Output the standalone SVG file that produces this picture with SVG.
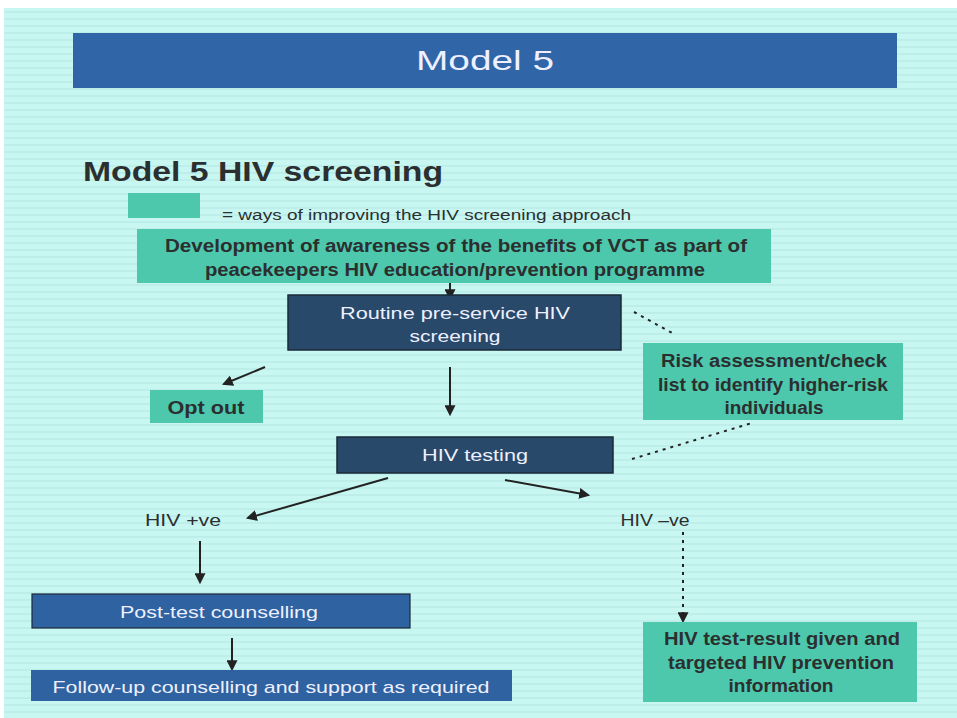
<svg xmlns="http://www.w3.org/2000/svg" width="957" height="718" viewBox="0 0 957 718" xml:space="preserve">
<defs>
<pattern id="stripes" width="10" height="7" patternUnits="userSpaceOnUse">
<rect width="10" height="7" fill="#c8f7f2"/>
<rect y="4" width="10" height="2" fill="#bdeeea"/>
</pattern>
<marker id="ah" viewBox="0 0 10 10" refX="8" refY="5" markerWidth="5.5" markerHeight="5.5" orient="auto">
<path d="M0,0 L10,5 L0,10 z" fill="#222"/>
</marker>
</defs>
<style>
.teal{fill:#4ec8ad}
.navy{fill:#28496a;stroke:#1a2a3a;stroke-width:1.5}
.blue{fill:#2f62a0;stroke:#1a2a3a;stroke-width:1.2}
.bt{font-family:"Liberation Sans",Arial,sans-serif;font-weight:bold;fill:#2b2f2f;text-anchor:middle}
.wt{font-family:"Liberation Sans",Arial,sans-serif;fill:#eef0ff;text-anchor:middle}
.ln{stroke:#222;stroke-width:2;fill:none}
.dl{stroke:#222;stroke-width:2;fill:none;stroke-dasharray:3 5}
</style>
<rect width="957" height="718" fill="#ffffff"/>
<rect x="4" y="8" width="953" height="710" fill="url(#stripes)"/>
<g id="title">
<rect x="73" y="33" width="824" height="55" fill="#3065a8"/>
<text class="wt" x="485" y="70" font-size="28" fill="#f0e8ff" textLength="138" lengthAdjust="spacingAndGlyphs">Model 5</text>
</g>
<g id="heading">
<text class="bt" x="83" y="181" font-size="28" style="text-anchor:start" textLength="360" lengthAdjust="spacingAndGlyphs">Model 5  HIV  screening</text>
</g>
<g id="legend">
<rect class="teal" x="128" y="193" width="72" height="25"/>
<text x="222" y="220" font-family="Liberation Sans, Arial, sans-serif" font-size="14" fill="#2b2f2f" textLength="409" lengthAdjust="spacingAndGlyphs">= ways of improving the HIV  screening approach</text>
</g>
<g id="connectors">
<line class="ln" x1="450" y1="268" x2="450" y2="298" marker-end="url(#ah)"/>
<line class="dl" x1="634" y1="312" x2="674" y2="334"/>
<line class="ln" x1="265" y1="367" x2="224" y2="384" marker-end="url(#ah)"/>
<line class="ln" x1="450" y1="367" x2="450" y2="414" marker-end="url(#ah)"/>
<line class="dl" x1="632" y1="459" x2="752" y2="423"/>
<line class="ln" x1="388" y1="478" x2="248" y2="518" marker-end="url(#ah)"/>
<line class="ln" x1="505" y1="480" x2="588" y2="495" marker-end="url(#ah)"/>
<line class="ln" x1="200" y1="541" x2="200" y2="582" marker-end="url(#ah)"/>
<line class="ln" x1="232" y1="638" x2="232" y2="669" marker-end="url(#ah)"/>
<line class="dl" x1="683" y1="532" x2="683" y2="621" marker-end="url(#ah)"/>
</g>
<g id="awareness">
<rect class="teal" x="137" y="229" width="634" height="54"/>
<text class="bt" x="456" y="252" font-size="18" textLength="582" lengthAdjust="spacingAndGlyphs">Development of  awareness of the benefits of VCT as part of</text>
<text class="bt" x="455" y="276" font-size="18" textLength="500" lengthAdjust="spacingAndGlyphs">peacekeepers HIV education/prevention programme</text>
</g>
<g id="routine">
<rect class="navy" x="288" y="295" width="333" height="55"/>
<text class="wt" x="455" y="319" font-size="16" textLength="230" lengthAdjust="spacingAndGlyphs">Routine pre-service HIV</text>
<text class="wt" x="455" y="342" font-size="16" textLength="91" lengthAdjust="spacingAndGlyphs">screening</text>
</g>
<g id="risk">
<rect class="teal" x="643" y="343" width="260" height="77"/>
<text class="bt" x="774" y="367" font-size="18" textLength="226" lengthAdjust="spacingAndGlyphs">Risk assessment/check</text>
<text class="bt" x="773" y="391" font-size="18" textLength="230" lengthAdjust="spacingAndGlyphs">list to identify higher-risk</text>
<text class="bt" x="774" y="414" font-size="18" textLength="99" lengthAdjust="spacingAndGlyphs">individuals</text>
</g>
<g id="optout">
<rect class="teal" x="150" y="390" width="113" height="33"/>
<text class="bt" x="206" y="414" font-size="18" textLength="77" lengthAdjust="spacingAndGlyphs">Opt out</text>
</g>
<g id="testing">
<rect class="navy" x="337" y="437" width="276" height="36"/>
<text class="wt" x="475" y="461" font-size="16" textLength="106" lengthAdjust="spacingAndGlyphs">HIV testing</text>
</g>
<g id="positive">
<text class="bt" x="183" y="526" font-size="16" style="font-weight:normal" textLength="76" lengthAdjust="spacingAndGlyphs">HIV +ve</text>
</g>
<g id="negative">
<text class="bt" x="655" y="526" font-size="16" style="font-weight:normal" textLength="69" lengthAdjust="spacingAndGlyphs">HIV –ve</text>
</g>
<g id="posttest">
<rect class="blue" x="32" y="594" width="378" height="34"/>
<text class="wt" x="219" y="618" font-size="16" textLength="198" lengthAdjust="spacingAndGlyphs">Post-test counselling</text>
</g>
<g id="followup">
<rect x="31" y="670" width="481" height="31" fill="#2f62a0"/>
<text class="wt" x="271" y="693" font-size="17" textLength="437" lengthAdjust="spacingAndGlyphs">Follow-up counselling and support as required</text>
</g>
<g id="result">
<rect class="teal" x="643" y="622" width="274" height="80"/>
<text class="bt" x="782" y="645" font-size="18" textLength="236" lengthAdjust="spacingAndGlyphs">HIV test-result given and</text>
<text class="bt" x="781" y="669" font-size="18" textLength="226" lengthAdjust="spacingAndGlyphs">targeted HIV prevention</text>
<text class="bt" x="781" y="692" font-size="18" textLength="105" lengthAdjust="spacingAndGlyphs">information</text>
</g>
</svg>
